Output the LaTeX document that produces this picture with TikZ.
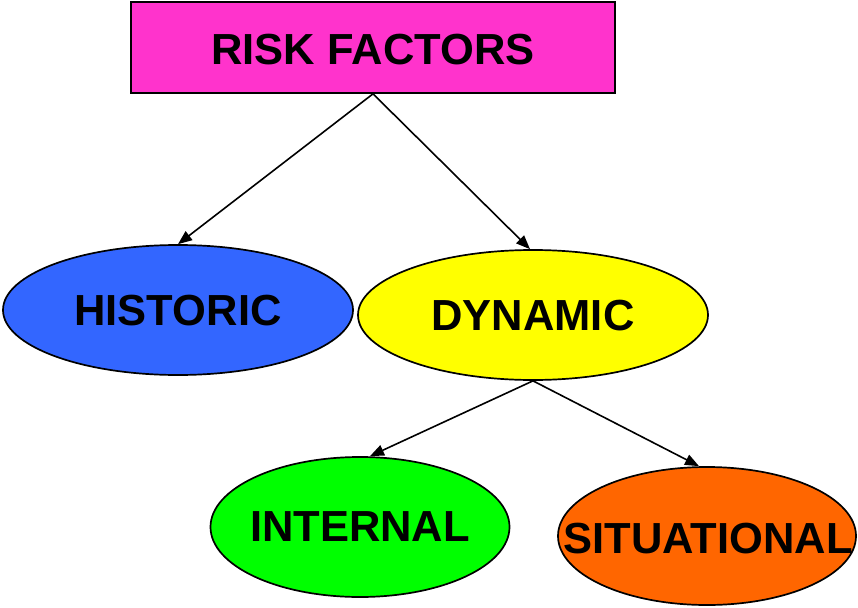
\documentclass[tikz,border=0pt]{standalone}
\usepackage{fontspec}
\setmainfont{Liberation Sans}
\usetikzlibrary{arrows.meta,shapes.geometric}
\definecolor{rfmagenta}{HTML}{FF33CC}
\definecolor{histblue}{HTML}{3366FF}
\definecolor{dynyellow}{HTML}{FFFF00}
\definecolor{intgreen}{HTML}{00FF00}
\definecolor{sitorange}{HTML}{FF6600}
% labels are boxed at zero width (so the shapes keep their own size)
% and may be nudged down while keeping their declared height and depth
\newcommand{\flatlabel}[2][0pt]{\raisebox{#1}[\height][\depth]{\makebox[0pt]{#2}}}
\tikzset{
  label text/.style={font=\fontsize{43.5}{43.5}\selectfont\bfseries, text=black},
  titlebox/.style={draw=black, line width=1.7pt, rectangle, inner sep=0pt, label text},
  oval/.style={draw=black, line width=1.7pt, ellipse, inner sep=0pt, label text},
  link/.style={draw=black, line width=1.6pt, -{Triangle[length=14pt,width=11pt]}}
}
\begin{document}
\begin{tikzpicture}[x=1pt,y=-1pt]
  \useasboundingbox (0,0) rectangle (858,607);
  % top box
  \node[titlebox, fill=rfmagenta, minimum width=484pt, minimum height=91pt] (rf) at (373,47.5) {\flatlabel[-2.5pt]{RISK FACTORS}};
  % first level
  \node[oval, fill=histblue, minimum width=350pt, minimum height=130pt] (hist) at (178,310) {\flatlabel[-1pt]{HISTORIC}};
  \node[oval, fill=dynyellow, minimum width=350pt, minimum height=130pt] (dyn) at (533,315) {\flatlabel[-1pt]{DYNAMIC}};
  % second level
  \node[oval, fill=intgreen, minimum width=299pt, minimum height=140pt] (int) at (360,527) {\flatlabel{INTERNAL}};
  \node[oval, fill=sitorange, minimum width=298pt, minimum height=138pt] (sit) at (707,536) {\flatlabel[-3pt]{\hspace{2pt}SITUATIONAL}};
  % connectors
  \draw[link] (rf.south) -- (hist.north);
  \draw[link] (rf.south) -- ([xshift=-3pt]dyn.north);
  \draw[link] (dyn.south) -- ([xshift=10pt]int.north);
  \draw[link] (dyn.south) -- ([xshift=-8pt]sit.north);
\end{tikzpicture}
\end{document}
